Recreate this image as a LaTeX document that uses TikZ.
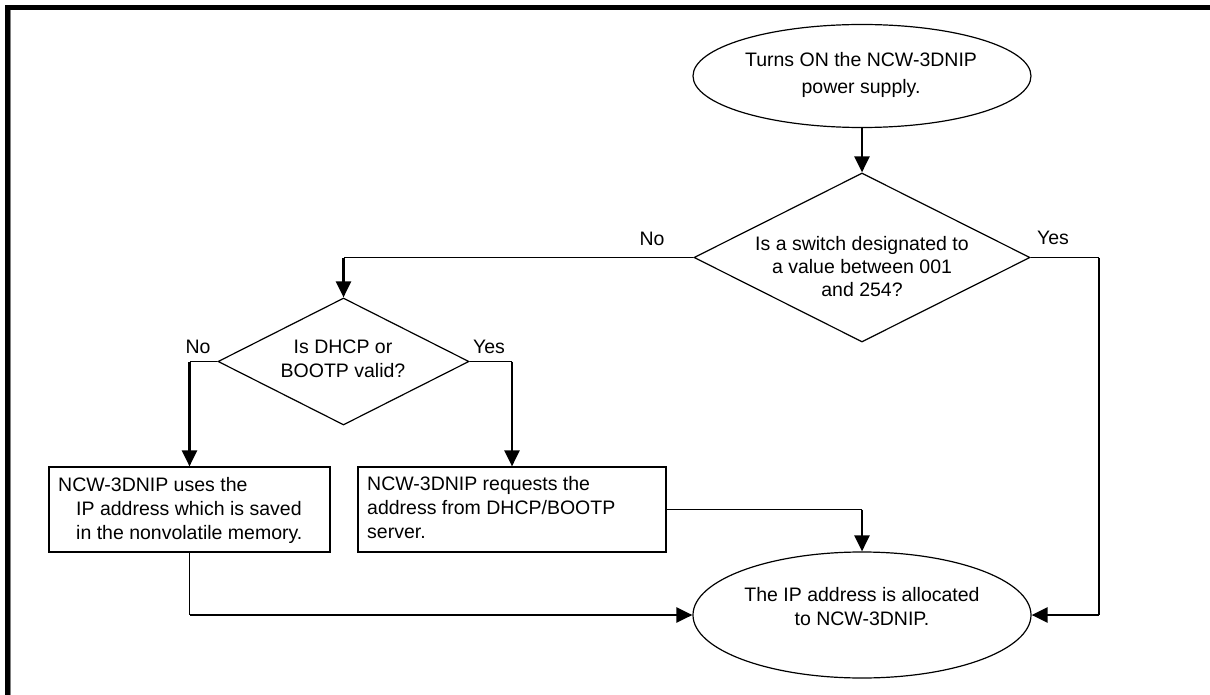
\documentclass[tikz,border=0pt]{standalone}
\usepackage{fontspec}
\setmainfont{Liberation Sans}
\usetikzlibrary{shapes.geometric,arrows.meta}
\tikzset{
  shp/.style={draw=black,line width=1.2pt,inner sep=0pt,fill=white},
  ell/.style={shp,ellipse},
  dia/.style={shp,diamond},
  rbox/.style={shp,rectangle},
  txt/.style={inner sep=0pt,font=\fontsize{19.5}{24}\selectfont},
  lbl/.style={inner sep=0pt,anchor=base,font=\fontsize{19.5}{24}\selectfont},
  thinln/.style={line width=1.2pt},
  arr/.style={line width=2.5pt,-{Triangle[length=16pt,width=15pt]}},
  thickln/.style={line width=2.5pt}
}
\begin{document}
\begin{tikzpicture}[x=1pt,y=-1pt]
\useasboundingbox (0,0) rectangle (1210,695);
% frame
\draw[line width=5pt] (7.5,695) -- (7.5,7.5) -- (1210,7.5);
\draw[gray,line width=1.4pt] (10.5,10) -- (10.5,695);

% shapes
\node[ell,minimum width=338pt,minimum height=103pt] (e1) at (862,76) {};
\node[dia,minimum width=336pt,minimum height=169pt] (d1) at (862,257.5) {};
\node[dia,minimum width=251pt,minimum height=127pt] (d2) at (343.5,361.5) {};
\node[rbox,minimum width=281pt,minimum height=85pt] (b1) at (189.5,509.5) {};
\node[rbox,minimum width=308pt,minimum height=85pt] (b2) at (512,509.5) {};
\node[ell,minimum width=338pt,minimum height=126pt] (e2) at (862,615) {};

% texts
\node[txt,align=center,font=\fontsize{19.5}{27}\selectfont] (t1) at (861,74.5) {Turns ON the NCW-3DNIP\\power supply.};
\node[txt,align=center,font=\fontsize{19.5}{23}\selectfont] (t2) at (862,267) {Is a switch designated to\\a value between 001\\and 254?};
\node[txt,align=center] (t3) at (343,359) {Is DHCP or\\BOOTP valid?};
\node[txt,align=left,anchor=west] (t4) at (58,510) {NCW-3DNIP uses the\\\hspace*{18pt}IP address which is saved\\\hspace*{18pt}in the nonvolatile memory.};
\node[txt,align=left,anchor=west] (t5) at (367,508) {NCW-3DNIP requests the\\address from DHCP/BOOTP\\server.};
\node[txt,align=center] (t6) at (862,607) {The IP address is allocated\\to NCW-3DNIP.};

% labels
\node[lbl] (l1) at (652,245) {No};
\node[lbl] (l2) at (1053,244) {Yes};
\node[lbl] (l3) at (198,353) {No};
\node[lbl] (l4) at (489,353) {Yes};

% corner coordinates
\coordinate (k1) at (343.5,257.5);
\coordinate (k2) at (189.5,361.5);
\coordinate (k3) at (512,361.5);
\coordinate (k4) at (189.5,615);
\coordinate (k5) at (862,509.5);
\coordinate (k6) at (1099,257.5);
\coordinate (k7) at (1099,615);

% connectors
\draw[arr] (e1.south) -- (d1.north);
\draw[thinln] (d1.west) -- (k1);
\draw[arr] (k1) -- (d2.north);
\draw[thinln] (d2.west) -- (k2);
\draw[arr] (k2) -- (b1.north);
\draw[thinln] (d2.east) -- (k3);
\draw[arr] (k3) -- (b2.north);
\draw[thinln] (b1.south) -- (k4);
\draw[arr] (k4) -- (e2.west);
\draw[thinln] (b2.east) -- (k5);
\draw[arr] (k5) -- (e2.north);
\draw[thinln] (d1.east) -- (k6);
\draw[thickln] (k6) -- (k7);
\draw[arr] (k7) -- (e2.east);
\end{tikzpicture}
\end{document}
